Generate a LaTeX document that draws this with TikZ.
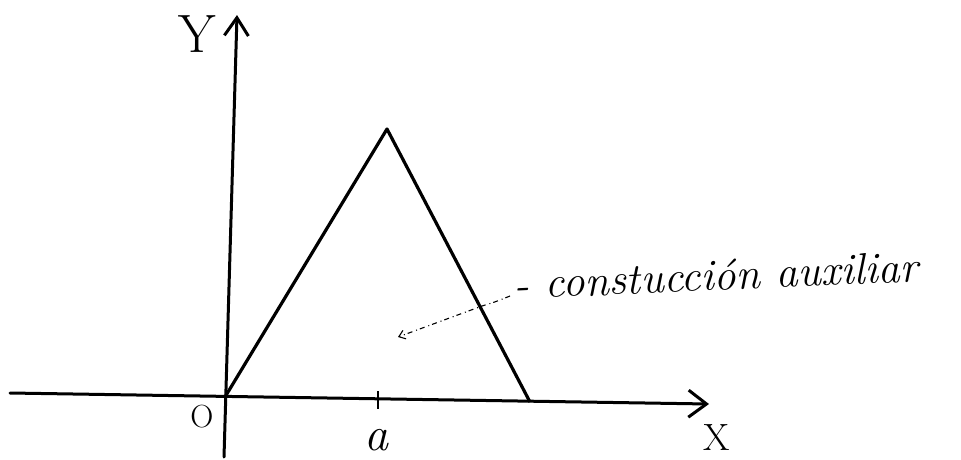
\documentclass[tikz,border=0pt]{standalone}
\usepackage{fontspec}
\usetikzlibrary{arrows.meta}
\begin{document}
\begin{tikzpicture}[x=1pt,y=-1pt,
  axis/.style={line width=3pt,line cap=round},
  tri/.style={line width=3.2pt,line join=round},
  lbl/.style={inner sep=0pt},
  leader/.style={line width=1.1pt,dash pattern=on 5pt off 3pt on 1pt off 4pt,-{Straight Barb[length=6pt,width=9pt]}},
  note/.style={font=\itshape\fontsize{44}{48}\selectfont,inner sep=0pt,anchor=west,rotate=2.5}]
\useasboundingbox (0,0) rectangle (961,459);
% axes
\coordinate (xl) at (10,393);
\coordinate (xr) at (709,404);
\coordinate (yb) at (224,457);
\coordinate (yt) at (237,15);
\draw[axis,-{Straight Barb[length=18pt,width=27pt,line width=3pt]}] (xl) -- (xr);
\draw[axis,-{Straight Barb[length=18pt,width=24pt,line width=3pt]}] (yb) -- (yt);
% triangle
\coordinate (O) at (225,397);
\coordinate (P) at (387,129);
\coordinate (B) at (530,402);
\draw[tri] (O) -- (P) -- (B);
% tick at a
\coordinate (ta) at (378,391);
\coordinate (tb) at (378,409);
\draw[line width=2.4pt] (ta) -- (tb);
% labels
\node[lbl,font=\fontsize{54}{56}\selectfont,anchor=base] (Ylab) at (197,52) {Y};
\node[lbl,font=\fontsize{32}{34}\selectfont,anchor=base] (Olab) at (202,427) {O};
\node[lbl,font=\itshape\fontsize{48}{50}\selectfont,anchor=base] (alab) at (376,450) {a};
\node[lbl,font=\fontsize{38}{40}\selectfont,anchor=base] (Xlab) at (717,450) {X};
% note
\node[note] (note) at (514,284) {- constucción auxiliar};
\coordinate (lstart) at (510,296);
\coordinate (lmid) at (482,306);
\coordinate (lend) at (398,337);
\draw[leader] (lstart) .. controls (495,302) .. (lmid) -- (lend);
\end{tikzpicture}
\end{document}
